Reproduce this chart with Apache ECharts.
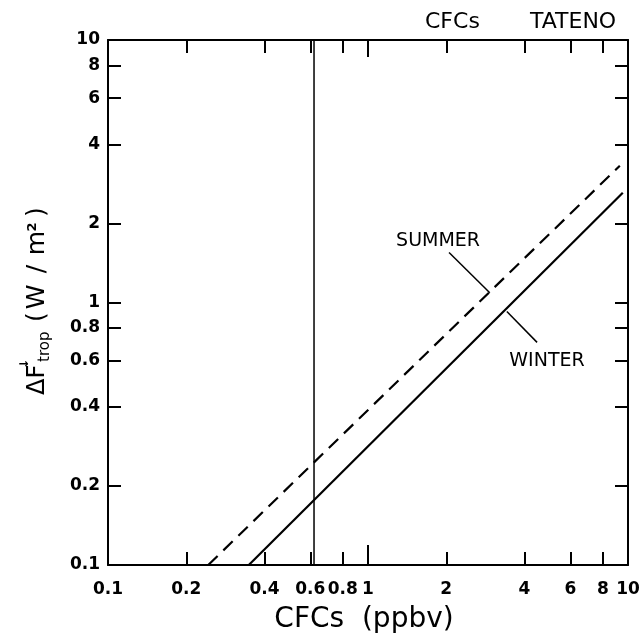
<!DOCTYPE html>
<html><head><meta charset="utf-8">
<script src="https://cdn.jsdelivr.net/npm/echarts@6/dist/echarts.min.js"></script>
<style>html,body{margin:0;padding:0;background:#fff}#c{width:642px;height:638px}</style>
</head><body><div id="c"></div>
<script>
// ---- data ----
const xLabelValues = [0.1, 0.2, 0.4, 0.6, 0.8, 1, 2, 4, 6, 8, 10];
const xTickValues = [0.2, 0.4, 0.6, 0.8, 2, 4, 6, 8];
const xMajorTick = [1];
const yLabelValues = [0.1, 0.2, 0.4, 0.6, 0.8, 1, 2, 4, 6, 8, 10];
const yTickValues = [0.2, 0.4, 0.6, 0.8, 1, 2, 4, 6, 8];
const winter = [[0.348, 0.1], [9.55, 2.62]];
const summer = [[0.243, 0.1], [9.3, 3.32]];
const refLine = [[0.62, 0.1], [0.62, 10]];
const summerLeader = [[2.05, 1.55], [2.94, 1.09]];
const winterLeader = [[3.42, 0.924], [4.47, 0.705]];
const summerLabelPos = [[1.86, 1.72]];
const winterLabelPos = [[4.88, 0.60]];

const FONT = 'DejaVu Sans';
const INK = '#000';
const fmt = v => String(+(+v).toPrecision(3));

function xAx(pos, ticks, len, showLabel, showLine) {
  return {
    type: 'log', logBase: 10, min: 0.1, max: 10, position: pos, gridIndex: 0,
    axisLine: { show: showLine, onZero: false, lineStyle: { color: INK, width: 2 } },
    axisTick: { show: true, inside: true, length: len, customValues: ticks, lineStyle: { color: INK, width: 2 } },
    axisLabel: { show: showLabel, customValues: xLabelValues, formatter: fmt, color: INK,
      fontFamily: FONT, fontSize: 17, fontWeight: 'bold', margin: 16 },
    splitLine: { show: false }, minorTick: { show: false }
  };
}
function yAx(pos, showLabel) {
  return {
    type: 'log', logBase: 10, min: 0.1, max: 10, position: pos, gridIndex: 0,
    axisLine: { show: true, onZero: false, lineStyle: { color: INK, width: 2 } },
    axisTick: { show: true, inside: true, length: 13, customValues: yTickValues, lineStyle: { color: INK, width: 2 } },
    axisLabel: { show: showLabel, customValues: yLabelValues, formatter: fmt, color: INK,
      fontFamily: FONT, fontSize: 17, fontWeight: 'bold', margin: 8 },
    splitLine: { show: false }
  };
}

const lineBase = { type: 'line', symbol: 'none', silent: true, animation: false, xAxisIndex: 0, yAxisIndex: 0 };
const annLabel = txt => ({ show: true, position: 'inside', formatter: txt, color: INK, opacity: 1,
  fontFamily: FONT, fontSize: 19, textBorderWidth: 0 });

const T = (x, y, text, font, align) => ({ type: 'text', x: x, y: y,
  style: { text: text, font: font, fill: INK, textAlign: align || 'center', textVerticalAlign: 'bottom' } });

const chart = echarts.init(document.getElementById('c'), null, { renderer: 'canvas' });
chart.setOption({
  animation: false,
  backgroundColor: '#fff',
  grid: { left: 108, right: 14, top: 40, bottom: 73, containLabel: false, outerBoundsMode: 'none' },
  xAxis: [
    xAx('bottom', xTickValues, 13, true, true),
    xAx('top', xTickValues, 13, false, true),
    xAx('bottom', xMajorTick, 20, false, false),
    xAx('top', xMajorTick, 17, false, false)
  ],
  yAxis: [yAx('left', true), yAx('right', false)],
  series: [
    Object.assign({}, lineBase, { name: 'WINTER', data: winter, lineStyle: { color: INK, width: 2.2 } }),
    Object.assign({}, lineBase, { name: 'SUMMER', data: summer, lineStyle: { color: INK, width: 2.2, type: [13, 8] } }),
    Object.assign({}, lineBase, { name: 'ref', data: refLine, lineStyle: { color: INK, width: 1.5 } }),
    Object.assign({}, lineBase, { name: 'sl', data: summerLeader, lineStyle: { color: INK, width: 1.5 } }),
    Object.assign({}, lineBase, { name: 'wl', data: winterLeader, lineStyle: { color: INK, width: 1.5 } }),
    { type: 'scatter', symbolSize: 0, data: summerLabelPos, silent: true, itemStyle: { opacity: 1 },
      label: annLabel('SUMMER') },
    { type: 'scatter', symbolSize: 0, data: winterLabelPos, silent: true, itemStyle: { opacity: 1 },
      label: annLabel('WINTER') }
  ],
  graphic: [
    { type: 'text', left: 425, top: 11, style: { text: 'CFCs', font: '22px "DejaVu Sans"', fill: INK } },
    { type: 'text', left: 530, top: 11, style: { text: 'TATENO', font: '22px "DejaVu Sans"', fill: INK } },
    { type: 'text', x: 364, y: 620, style: { text: 'CFCs  (ppbv)', font: '28px "DejaVu Sans"', fill: INK,
      textAlign: 'center', textVerticalAlign: 'middle' } },
    { type: 'group', x: 50, y: 395, rotation: Math.PI / 2, children: [
      T(0, 0, 'ΔF', '24px "DejaVu Sans"', 'left'),
      T(33, 3, 'trop', '15px "DejaVu Sans"', 'left'),
      T(31, -19, '↓', 'bold 12px "DejaVu Sans"'),
      T(78, 0, '(', '25px "DejaVu Sans"'),
      T(98, 0, 'W', '25px "DejaVu Sans"'),
      T(126, 0, '/', '25px "DejaVu Sans"'),
      T(152, 0, 'm', '25px "DejaVu Sans"'),
      T(168, -11, '2', 'bold 13px "DejaVu Sans"'),
      T(183, 0, ')', '25px "DejaVu Sans"')
    ] }
  ]
});
</script></body></html>
